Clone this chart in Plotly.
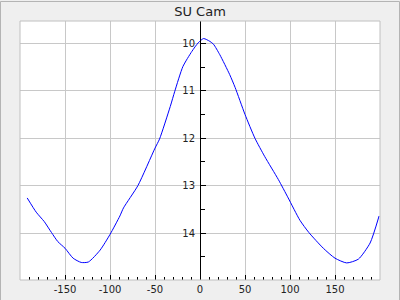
import plotly.graph_objects as go

phase = [-192, -182, -173, -165, -158, -150, -141, -132, -124, -111, -100, -89, -85, -69,
         -50, -45, -33, -28, -19, -9, -2, 4, 11, 15, 22, 33, 39, 50, 61, 72, 87, 98,
         111, 121, 137, 150, 163, 176, 189, 199]
mag = [13.26, 13.56, 13.76, 13.99, 14.18, 14.32, 14.53, 14.62, 14.61, 14.36, 14.03, 13.64, 13.47, 13.0,
       12.21, 12.02, 11.33, 11.01, 10.49, 10.17, 9.99, 9.90, 9.96, 10.02, 10.24, 10.66, 10.93, 11.5,
       12.0, 12.39, 12.87, 13.26, 13.73, 13.99, 14.32, 14.53, 14.63, 14.55, 14.21, 13.64]

x_ticks = [-150, -100, -50, 0, 50, 100, 150]
y_ticks = [10, 11, 12, 13, 14]

fig = go.Figure(go.Scatter(x=phase, y=mag, mode="lines",
                           line=dict(color="#0000ff", width=1, shape="spline", smoothing=0.6),
                           hoverinfo="skip"))

font = dict(family="DejaVu Sans", size=10, color="#222222")
fig.update_layout(
    width=400, height=300,
    margin=dict(l=20, r=20, t=21, b=20, autoexpand=False),
    paper_bgcolor="#efefef", plot_bgcolor="#ffffff",
    showlegend=False,
    title=dict(text="SU Cam", x=0.5, xanchor="center", y=1 - 11 / 300, yanchor="middle",
               yref="container", font=dict(family="DejaVu Sans", size=13, color="#222222")),
    xaxis=dict(range=[-200, 200], tickvals=x_ticks, ticktext=[str(v) for v in x_ticks],
               automargin=False,
               showgrid=True, gridcolor="#c8c8c8", gridwidth=1, zeroline=False,
               ticks="inside", ticklen=5, tickcolor="#000000", tickwidth=1,
               minor=dict(dtick=10, tick0=0, ticks="inside", ticklen=3, tickcolor="#000000", showgrid=False),
               showline=False, tickfont=font, ticklabelstandoff=2),
    yaxis=dict(range=[14.99, 9.53], tickvals=y_ticks, ticktext=[str(v) for v in y_ticks],
               anchor="free", position=0.5, automargin=False,
               showgrid=True, gridcolor="#c8c8c8", gridwidth=1, zeroline=False,
               ticks="inside", ticklen=5, tickcolor="#000000", tickwidth=1,
               minor=dict(dtick=0.5, tick0=0, ticks="inside", ticklen=4, tickcolor="#000000", showgrid=False),
               showline=True, linecolor="#000000", linewidth=1, tickfont=font,
               ticklabelstandoff=3),
    shapes=[
        dict(type="rect", xref="paper", yref="paper", x0=0, x1=1, y0=0, y1=1,
             line=dict(color="#c0c0c0", width=1), layer="above"),
        dict(type="rect", xref="paper", yref="paper",
             x0=(0.5 - 20) / 360, x1=(399.5 - 20) / 360,
             y0=(279 - 299.5) / 259, y1=(279 - 0.5) / 259,
             line=dict(color="#b4b4b4", width=1), layer="above"),
    ],
)

fig.write_html("out.html")
